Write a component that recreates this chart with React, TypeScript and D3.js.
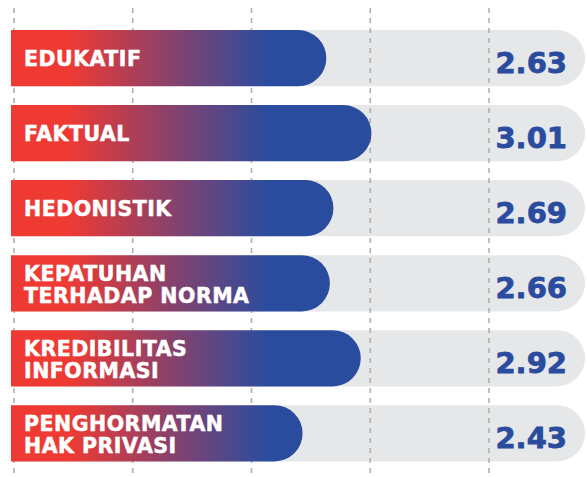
import React from "react";
import * as d3 from "d3";

const categories: string[][] = [
  ["EDUKATIF"],
  ["FAKTUAL"],
  ["HEDONISTIK"],
  ["KEPATUHAN", "TERHADAP NORMA"],
  ["KREDIBILITAS", "INFORMASI"],
  ["PENGHORMATAN", "HAK PRIVASI"],
];
const values: number[] = [2.63, 3.01, 2.69, 2.66, 2.92, 2.43];
const gridTicks: number[] = [0, 1, 2, 3, 4];

const W = 587;
const H = 477;
const RED = "#ee3a33";
const BLUE = "#2a4c9f";
const TRACK = "#e6e7e9";
const GRID = "#b0b0b0";
const FONT = "'DejaVu Sans', sans-serif";

export default function App() {
  const x = d3.scaleLinear().domain([0, 4]).range([14, 489]);
  const y = d3
    .scaleBand<number>()
    .domain(d3.range(values.length))
    .range([30, 461.5])
    .paddingInner(0.25)
    .paddingOuter(0)
    .align(0);
  const barLeft = 11;
  const trackRight = 585;
  const h = y.bandwidth();
  const r = h / 2;

  const roundedRight = (x0: number, x1: number, top: number) => {
    const p = d3.path();
    p.moveTo(x0, top);
    p.lineTo(x1 - r, top);
    p.arc(x1 - r, top + r, r, -Math.PI / 2, Math.PI / 2);
    p.lineTo(x0, top + h);
    p.closePath();
    return p.toString();
  };

  return (
    <svg
      width={W}
      height={H}
      style={{ position: "absolute", left: 0, top: 0 }}
    >
      <defs>
        <linearGradient
          id="barGrad"
          gradientUnits="userSpaceOnUse"
          x1={70}
          x2={268}
          y1={0}
          y2={0}
        >
          <stop offset="0" stopColor={RED} />
          <stop offset="0.5" stopColor="#8a416b" />
          <stop offset="1" stopColor={BLUE} />
        </linearGradient>
      </defs>
      {values.map((v, i) => (
        <path
          key={"t" + i}
          d={roundedRight(barLeft, trackRight, y(i)!)}
          fill={TRACK}
        />
      ))}
      {gridTicks.map((t) => (
        <line
          key={"g" + t}
          x1={x(t)}
          x2={x(t)}
          y1={8}
          y2={H}
          stroke={GRID}
          strokeWidth={1.6}
          strokeDasharray="5 5"
        />
      ))}
      {values.map((v, i) => (
        <path
          key={"b" + i}
          d={roundedRight(barLeft, x(v), y(i)!)}
          fill="url(#barGrad)"
        />
      ))}
      {categories.map((lines, i) => {
        const top = y(i)!;
        const baselines =
          lines.length === 1 ? [top + 36] : [top + 25.5, top + 47.5];
        return lines.map((ln, j) => (
          <text
            key={"l" + i + "-" + j}
            x={24}
            y={baselines[j]}
            fill="#ffffff"
            stroke="#ffffff"
            strokeWidth={0.5}
            fontFamily={FONT}
            fontWeight={700}
            fontSize={20.5}
            letterSpacing={0.5}
          >
            {ln}
          </text>
        ));
      })}
      {values.map((v, i) => (
        <text
          key={"v" + i}
          x={567}
          y={y(i)! + 43}
          textAnchor="end"
          fill={BLUE}
          stroke={BLUE}
          strokeWidth={0.8}
          fontFamily={FONT}
          fontWeight={700}
          fontSize={29}
        >
          {v.toFixed(2)}
        </text>
      ))}
    </svg>
  );
}
